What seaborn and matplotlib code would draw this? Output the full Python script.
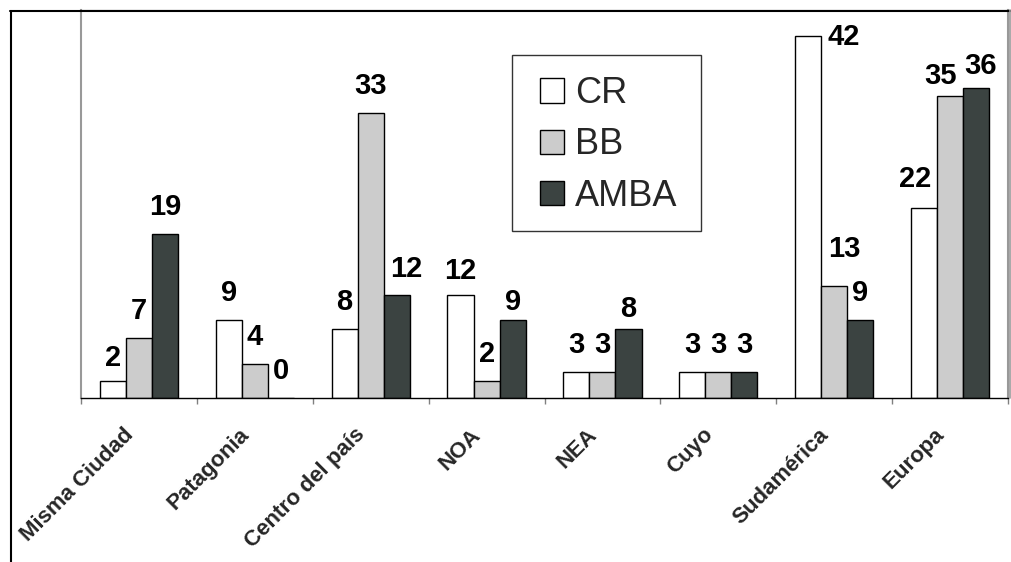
import numpy as np
import pandas as pd
import matplotlib
matplotlib.use("Agg")
import matplotlib.pyplot as plt
from matplotlib.lines import Line2D
from matplotlib.patches import Rectangle
from matplotlib.transforms import ScaledTranslation
import seaborn as sns

# Origen de los encuestados por zona
categories = ["Misma Ciudad", "Patagonia", "Centro del país", "NOA", "NEA",
              "Cuyo", "Sudamérica", "Europa"]
series = ["CR", "BB", "AMBA"]
cr = [2, 9, 8, 12, 3, 3, 42, 22]
bb = [7, 4, 33, 2, 3, 3, 13, 35]
amba = [19, 0, 12, 9, 8, 3, 9, 36]

colors = {"CR": "#ffffff", "BB": "#cccccc", "AMBA": "#3b4341"}

df = pd.DataFrame({
    "Origen": categories * 3,
    "Serie": np.repeat(series, len(categories)),
    "Valor": cr + bb + amba,
})

sns.set_style("white")
plt.rcParams["font.family"] = ["Liberation Sans", "DejaVu Sans"]

W, H, DPI = 1011, 562, 100
fig = plt.figure(figsize=(W / DPI, H / DPI), dpi=DPI)
ax = fig.add_axes([81 / W, 1 - 398 / H, (1008 - 81) / W, (398 - 10) / H])

sns.barplot(data=df, x="Origen", y="Valor", hue="Serie", order=categories,
            hue_order=series, palette=colors, width=0.675, saturation=1,
            edgecolor="black", linewidth=1.0, errorbar=None, legend=False, ax=ax)

ax.set_xlim(-0.5, len(categories) - 0.5)
ax.set_ylim(0, 45)
ax.set_xlabel("")
ax.set_ylabel("")
ax.set_yticks([])

# value labels above each bar (pixel nudges where labels would collide)
nudge = {
    ("Misma Ciudad", "CR"): (0, -4),
    ("Centro del país", "AMBA"): (9, -1),
    ("NOA", "AMBA"): (0, -9),
    ("NOA", "CR"): (0, -3),
    ("NEA", "AMBA"): (0, -7),
    ("Sudamérica", "CR"): (36, -28),
    ("Sudamérica", "BB"): (10, 10),
    ("Europa", "CR"): (-9, 2),
    ("Europa", "BB"): (-10, -7),
    ("Europa", "AMBA"): (4, -5),
}
values = {"CR": cr, "BB": bb, "AMBA": amba}
for s, cont in zip(series, ax.containers):
    for cat, bar, v in zip(categories, cont.patches, values[s]):
        dx, dy = nudge.get((cat, s), (0, 0))
        ax.annotate(str(v), xy=(bar.get_x() + bar.get_width() / 2, v),
                    xytext=(dx, 27 + dy), textcoords="offset pixels",
                    ha="center", va="center", fontsize=21, fontweight="bold",
                    color="black", annotation_clip=False)

# axis lines and ticks between categories
for side in ("left", "right"):
    ax.spines[side].set_color("#999999")
    ax.spines[side].set_linewidth(1.5)
ax.spines["top"].set_color("black")
ax.spines["bottom"].set_color("black")
ax.spines["bottom"].set_linewidth(1.0)

ax.set_xticks(np.arange(-0.5, len(categories), 1.0), minor=True)
ax.tick_params(axis="x", which="minor", bottom=True, length=4.5, width=1,
               color="#808080", direction="out")
ax.tick_params(axis="x", which="major", bottom=False, length=0, pad=19)
ax.set_xticks(range(len(categories)))
ax.set_xticklabels(categories)
shift = ScaledTranslation(-16 / DPI, 0, fig.dpi_scale_trans)
for lbl in ax.get_xticklabels():
    lbl.set_rotation(45)
    lbl.set_ha("right")
    lbl.set_va("top")
    lbl.set_rotation_mode("anchor")
    lbl.set_fontsize(16)
    lbl.set_fontweight("bold")
    lbl.set_transform(lbl.get_transform() + shift)

# legend with its own box
fig.add_artist(Rectangle((512 / W, 1 - 231 / H), (701 - 512) / W, (231 - 55) / H,
                         transform=fig.transFigure, facecolor="white",
                         edgecolor="#333333", linewidth=1.0, zorder=4))
handles = [Rectangle((0, 0), 1, 1, facecolor=colors[s], edgecolor="black",
                     linewidth=1.0) for s in series]
fig.legend(handles, series, loc="center left",
           bbox_to_anchor=(540 / W, 1 - 145 / H), bbox_transform=fig.transFigure,
           frameon=False, fontsize=26, handlelength=0.67, handleheight=0.67,
           handletextpad=0.3, labelspacing=0.45, borderpad=0, borderaxespad=0)

# outer chart border
fig.add_artist(Line2D([10.5 / W, 10.5 / W], [0, 1 - 10.5 / H],
                      transform=fig.transFigure, color="black", lw=1.5))
fig.add_artist(Line2D([10 / W, 1], [1 - 10.5 / H, 1 - 10.5 / H],
                      transform=fig.transFigure, color="black", lw=1.5))
fig.add_artist(Line2D([1009.5 / W, 1009.5 / W], [1 - 10 / H, 1 - 398 / H],
                      transform=fig.transFigure, color="#999999", lw=1.2))

fig.savefig("out.png", dpi=DPI)
